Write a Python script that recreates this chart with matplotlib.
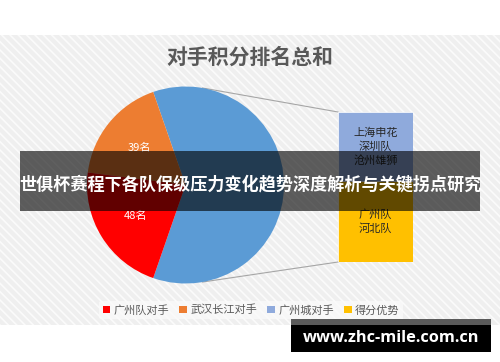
import matplotlib
matplotlib.use("Agg")
import matplotlib.pyplot as plt
from matplotlib.patches import Rectangle, Patch
import numpy as np

plt.rcParams['font.family'] = ['Noto Sans CJK SC', 'DejaVu Sans']
plt.rcParams['hatch.linewidth'] = 1.2

# ---- data ----
title = "对手积分排名总和"
pie_categories = ["广州队对手", "武汉长江对手"]
pie_values = [48, 39]
pie_labels = ["48名", "39名"]
bar_categories = ["广州城对手", "得分优势"]
bar_values = [62, 72]
bar_labels = ["上海申花\n深圳队\n沧州雄狮", "广州队\n河北队"]
legend_labels = ["广州队对手", "武汉长江对手", "广州城对手", "得分优势"]
pie_colors = ["#FF0000", "#ED7D31"]
other_color = "#5B9BD5"
bar_colors = ["#8FAADC", "#FFC000"]
overlay_text = "世俱杯赛程下各队保级压力变化趋势深度解析与关键拐点研究"
watermark = "www.zhc-mile.com.cn"

W, H = 500, 362
fig = plt.figure(figsize=(W / 100, H / 100), dpi=100)
fig.patch.set_facecolor("white")
ax = fig.add_axes([0, 0, 1, 1])

def py(y):
    return H - y

# chart background with diagonal texture
bg = Rectangle((0, py(325)), W, 325 - 35, facecolor="#efefef", edgecolor="#fbfbfb",
               hatch="\\\\\\\\", linewidth=0, zorder=0)
ax.add_patch(bg)

# pie: other slice (sum of bar) + first categories
other_total = sum(bar_values)
vals = [other_total, pie_values[1], pie_values[0]]
cols = [other_color, pie_colors[1], pie_colors[0]]
labs = ["", pie_labels[1], pie_labels[0]]
total = sum(vals)
start = -other_total / total * 180.0
cx, cy, r = 185.5, py(185), 98.5
wedges, texts = ax.pie(vals, colors=cols, labels=labs, startangle=start,
                       counterclock=True, center=(cx, cy), radius=r,
                       labeldistance=0.6, frame=True,
                       textprops=dict(color="white", fontsize=8, ha="center", va="center"),
                       wedgeprops=dict(linewidth=0))
for w in wedges:
    w.set_zorder(3)
for t in texts:
    t.set_zorder(4)

# connector lines from pie to bar
bx0, bx1, by_top, by_bot = 338, 413, 112, 262
ang = np.deg2rad(80)
ax.plot([cx + r * np.cos(ang), bx0], [cy + r * np.sin(ang), py(by_top)],
        color="#a6a6a6", lw=0.8, zorder=2)
ax.plot([cx + r * np.cos(ang), bx0], [cy - r * np.sin(ang), py(by_bot)],
        color="#a6a6a6", lw=0.8, zorder=2)

# title
ax.text(250, py(57), title, ha="center", va="center", fontsize=15,
        fontweight="bold", color="#595959", zorder=5)

# legend
handles = [Patch(facecolor=c, edgecolor="none") for c in pie_colors + bar_colors]
leg = ax.legend(handles, legend_labels, ncol=4, loc="center",
                bbox_to_anchor=(251 / W, 1 - 310 / H), frameon=True,
                fontsize=8, handlelength=0.7, handleheight=0.7, handletextpad=0.3,
                columnspacing=0.9, borderpad=0.3, labelcolor="#595959")
leg.get_frame().set_facecolor("#fafafa")
leg.get_frame().set_edgecolor("none")
leg.get_frame().set_alpha(0.8)

ax.set_xlim(0, W)
ax.set_ylim(0, H)
ax.set_aspect("auto")
ax.axis("off")

# stacked bar (bar of pie)
ax2 = fig.add_axes([bx0 / W, (H - by_bot) / H, (bx1 - bx0) / W, (by_bot - by_top) / H])
ax2.set_zorder(3)
bottom = 0
order = [1, 0]  # yellow at bottom, blue on top
for i in order:
    ax2.bar([0], [bar_values[i]], bottom=bottom, width=1.0, color=bar_colors[i],
            edgecolor="white", linewidth=0.5)
    ax2.text(0, bottom + bar_values[i] / 2, bar_labels[i], ha="center", va="center",
             fontsize=8, color="#262626", linespacing=1.35)
    bottom += bar_values[i]
ax2.set_xlim(-0.5, 0.5)
ax2.set_ylim(0, other_total)
ax2.axis("off")
ax2.patch.set_alpha(0)

# overlay band and watermark (top layer)
ax3 = fig.add_axes([0, 0, 1, 1])
ax3.set_zorder(10)
ax3.patch.set_alpha(0)
ax3.set_xlim(0, W)
ax3.set_ylim(0, H)
ax3.axis("off")
ax3.add_patch(Rectangle((20, py(211)), 460, 60, facecolor="black", alpha=0.62, linewidth=0))
ax3.text(250, py(184), overlay_text, ha="center", va="center", fontsize=12.3,
         fontweight="bold", color="white")
ax3.add_patch(Rectangle((291, py(325)), 200, 6, facecolor="#5a5a5a", linewidth=0))
ax3.add_patch(Rectangle((291, py(352)), 200, 27, facecolor="black", linewidth=0))
ax3.text(391, py(338), watermark, ha="center", va="center", fontsize=11.8,
         fontweight="bold", color="white", family="Open Sans")

fig.savefig("out.png", dpi=100, facecolor="white")
